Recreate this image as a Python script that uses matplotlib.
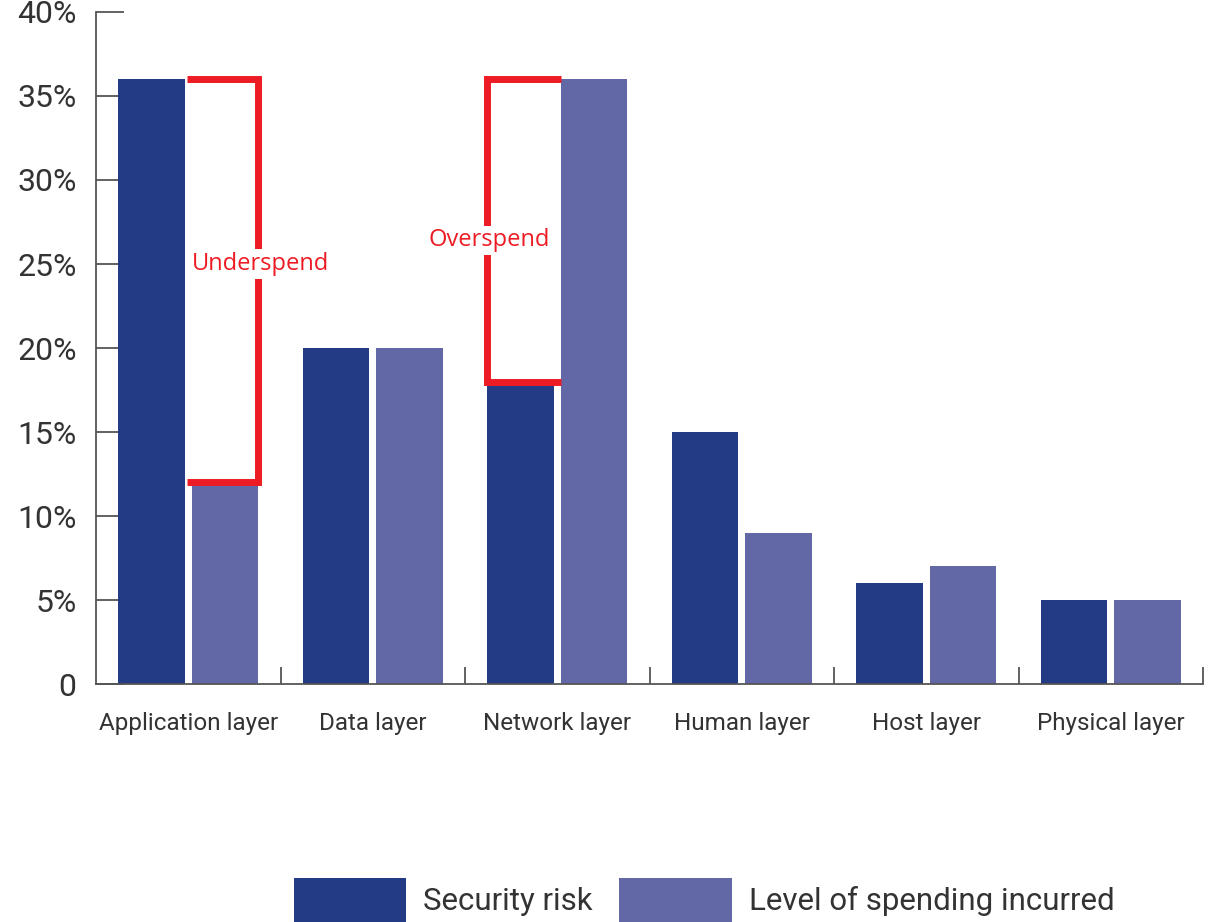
import numpy as np
import matplotlib
matplotlib.use("Agg")
import matplotlib.pyplot as plt
from matplotlib.patches import Patch

# Data (percent)
categories = ["Application layer", "Data layer", "Network layer",
              "Human layer", "Host layer", "Physical layer"]
security_risk = [36, 20, 18, 15, 6, 5]
spending = [12, 20, 36, 9, 7, 5]
y_ticks = [0, 5, 10, 15, 20, 25, 30, 35, 40]
y_labels = ["0", "5%", "10%", "15%", "20%", "25%", "30%", "35%", "40%"]

dark = "#233A85"
light = "#6268A5"
red = "#ED1C24"
axis_col = "#555555"
text_col = "#333333"

plt.rcParams['font.family'] = ['Roboto', 'DejaVu Sans']

fig = plt.figure(figsize=(12.11, 9.22), dpi=100)
ax = fig.add_axes([0.0793, 0.2581, 0.9141, 0.7289])

x = np.arange(len(categories))
w = 0.36
off = 0.2
ax.bar(x - off, security_risk, w, color=dark, zorder=2)
ax.bar(x + off, spending, w, color=light, zorder=2)

ax.set_xlim(-0.5, 5.5)
ax.set_ylim(0, 40)
ax.set_axisbelow(True)

for s in ["top", "right"]:
    ax.spines[s].set_visible(False)
for s in ["left", "bottom"]:
    ax.spines[s].set_color(axis_col)
    ax.spines[s].set_linewidth(1.3)

ax.set_yticks(y_ticks)
ax.set_yticklabels(y_labels)
ax.tick_params(axis="y", direction="in", length=20, width=1.3, color=axis_col,
               labelsize=23, labelcolor=text_col, pad=14)

# category labels at group centres, separator ticks between groups
ax.set_xticks(x)
ax.set_xticklabels(categories)
ax.tick_params(axis="x", which="major", length=0, labelsize=17.5,
               labelcolor=text_col, pad=20)
ax.set_xticks(x + 0.5, minor=True)
ax.tick_params(axis="x", which="minor", direction="in", length=12, width=1.3,
               color=axis_col)

# Underspend bracket (application layer)
i = 0
xl = i - off + w / 2 + 0.015
xr = i + off + w / 2
hi, lo = security_risk[i], spending[i]
ax.plot([xl, xr, xr, xl], [hi, hi, lo, lo], color=red, lw=5,
        solid_joinstyle="miter", solid_capstyle="butt", zorder=3)
ax.text(xr + 0.01, 25, "Underspend", color=red, fontsize=17, family="Open Sans",
        ha="center", va="center", zorder=4,
        bbox=dict(facecolor="white", edgecolor="none", pad=2))

# Overspend bracket (network layer)
i = 2
xl = i - off - w / 2
xr = i + off - w / 2
hi, lo = spending[i], security_risk[i]
ax.plot([xr, xl, xl, xr], [hi, hi, lo, lo], color=red, lw=5,
        solid_joinstyle="miter", solid_capstyle="butt", zorder=3)
ax.text(xl + 0.01, 26.4, "Overspend", color=red, fontsize=17, family="Open Sans",
        ha="center", va="center", zorder=4,
        bbox=dict(facecolor="white", edgecolor="none", pad=2))

handles = [Patch(facecolor=dark, label="Security risk"),
           Patch(facecolor=light, label="Level of spending incurred")]
fig.legend(handles=handles, loc="center left", bbox_to_anchor=(0.2295, 0.024),
           ncol=2, frameon=False, fontsize=22.5, handlelength=3.6,
           handleheight=1.8, handletextpad=0.55, columnspacing=0.85,
           labelcolor=text_col, borderpad=0)

fig.savefig("out.png", dpi=100)
